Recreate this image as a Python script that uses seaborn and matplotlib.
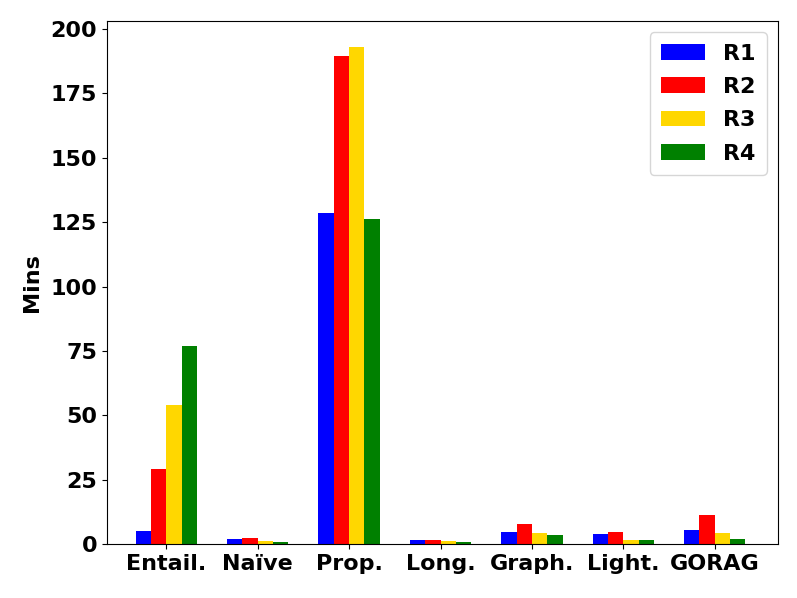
import pandas as pd
import matplotlib
matplotlib.use('Agg')
import matplotlib.pyplot as plt
import seaborn as sns

# Values (minutes)
methods = ['Entail.', 'Naïve', 'Prop.', 'Long.', 'Graph.', 'Light.', 'GORAG']
r1 = [5.0, 1.8, 128.5, 1.4, 4.8, 4.0, 5.3]
r2 = [29.1, 2.2, 189.5, 1.4, 7.8, 4.5, 11.1]
r3 = [54.0, 1.2, 193.0, 1.2, 4.3, 1.7, 4.4]
r4 = [76.8, 0.8, 126.3, 0.7, 3.6, 1.6, 1.8]
rounds = ['R1', 'R2', 'R3', 'R4']
colors = ['blue', 'red', 'gold', 'green']

df = pd.DataFrame({'R1': r1, 'R2': r2, 'R3': r3, 'R4': r4}, index=methods)
long_df = df.reset_index().melt(id_vars='index', var_name='Round', value_name='Mins')
long_df = long_df.rename(columns={'index': 'Method'})

fig = plt.figure(figsize=(7.97, 5.98), dpi=100)
ax = fig.add_axes([0.134, 0.0903, 0.842, 0.874])
sns.barplot(data=long_df, x='Method', y='Mins', hue='Round', hue_order=rounds,
            order=methods, palette=colors, width=0.67, errorbar=None,
            saturation=1, linewidth=0.5, ax=ax)

ax.set_xlim(-0.65, 6.69)
ax.set_ylim(0, 203)
ax.set_xlabel('')
ax.set_ylabel('Mins', fontsize=16, fontweight='bold', labelpad=6)
for lab in ax.get_xticklabels() + ax.get_yticklabels():
    lab.set_fontsize(16)
    lab.set_fontweight('bold')
ax.legend(loc='upper right', prop={'size': 16, 'weight': 'bold'},
          handlelength=2, labelspacing=0.6, borderpad=0.5)

fig.savefig('out.png', dpi=100)
